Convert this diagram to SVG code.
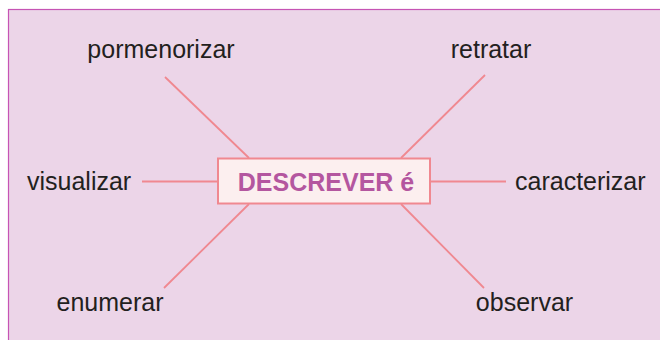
<svg xmlns="http://www.w3.org/2000/svg" width="660" height="340" viewBox="0 0 660 340">
<style>
.lbl{font-family:"Liberation Sans",Arial,sans-serif;font-size:25px;fill:#231f20}
.conn line{stroke:#f08890;stroke-width:1.8}
</style>
<rect x="0" y="0" width="660" height="340" fill="#ffffff"/>
<rect id="frame" x="8.5" y="9.5" width="660" height="340" fill="#ecd5e8" stroke="#c654b4" stroke-width="1.2"/>
<g class="conn" id="connectors">
<line x1="165" y1="77" x2="249" y2="158"/>
<line x1="485" y1="75" x2="401" y2="158"/>
<line x1="142" y1="181.5" x2="217" y2="181.5"/>
<line x1="430" y1="181.5" x2="506" y2="181.5"/>
<line x1="249" y1="204" x2="164" y2="288"/>
<line x1="401" y1="204" x2="484" y2="288"/>
</g>
<g id="center">
<rect x="218" y="158.5" width="212" height="45" fill="#fcefef" stroke="#f08890" stroke-width="2"/>
<text x="326" y="191" text-anchor="middle" style="font-family:'Liberation Sans',Arial,sans-serif;font-size:25px;font-weight:bold;fill:#b4569f">DESCREVER é</text>
</g>
<g id="n-pormenorizar"><text class="lbl" x="161" y="58" text-anchor="middle">pormenorizar</text></g>
<g id="n-retratar"><text class="lbl" x="491" y="58" text-anchor="middle">retratar</text></g>
<g id="n-visualizar"><text class="lbl" x="27" y="190">visualizar</text></g>
<g id="n-caracterizar"><text class="lbl" x="515" y="190">caracterizar</text></g>
<g id="n-enumerar"><text class="lbl" x="110" y="311" text-anchor="middle">enumerar</text></g>
<g id="n-observar"><text class="lbl" x="524.5" y="311" text-anchor="middle">observar</text></g>
</svg>
